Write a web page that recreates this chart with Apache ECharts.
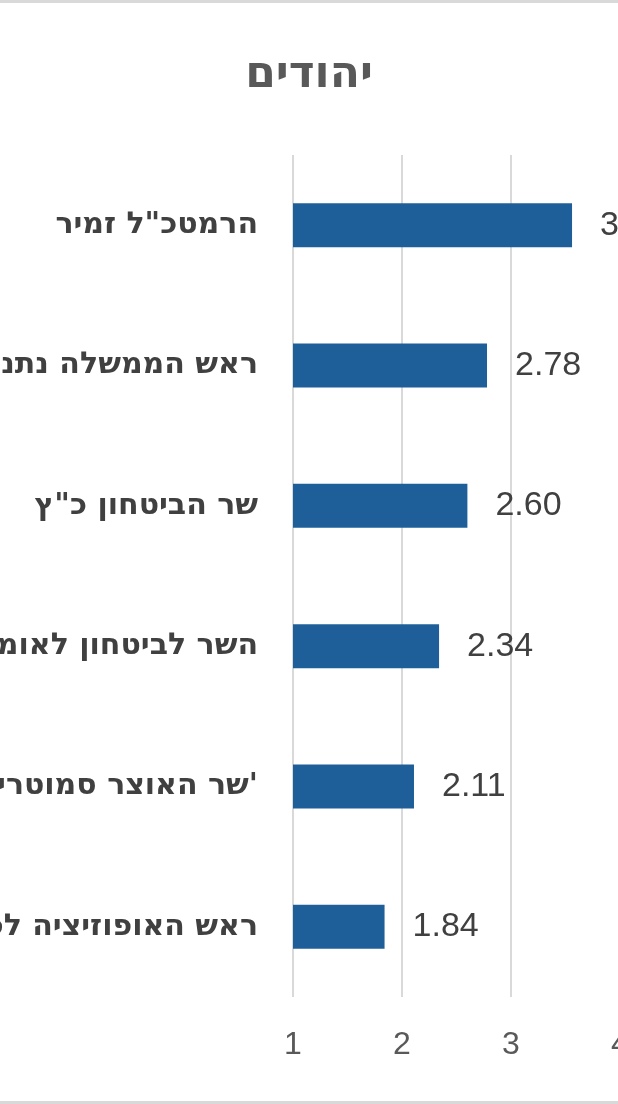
<!DOCTYPE html>
<html><head><meta charset="utf-8">
<script src="https://cdn.jsdelivr.net/npm/echarts@6/dist/echarts.min.js"></script>
<style>html,body{margin:0;padding:0;background:#fff}#c{width:618px;height:1104px;box-sizing:border-box;border-top:3px solid #d9d9d9;border-bottom:3px solid #d9d9d9}</style>
</head><body><div id="c"></div>
<script>
const categories = ["הרמטכ\"ל זמיר","ראש הממשלה נתניהו","שר הביטחון כ\"ץ","השר לביטחון לאומי בן גביר","שר האוצר סמוטריץ'","ראש האופוזיציה לפיד"];
const values = [3.56, 2.78, 2.60, 2.34, 2.11, 1.84];
const chart = echarts.init(document.getElementById('c'));
chart.setOption({
  animation:false,
  title:{text:"יהודים",left:'center',top:46,textStyle:{fontSize:44,fontWeight:'bold',color:'#595959',fontFamily:'DejaVu Sans'}},
  grid:{left:293,width:327,top:152,bottom:104,containLabel:false,outerBoundsMode:'none'},
  xAxis:{type:'value',min:1,max:4,interval:1,
    axisLine:{show:false},axisTick:{show:false},
    splitLine:{lineStyle:{color:'#d9d9d9',width:2}},
    axisLabel:{fontSize:32,color:'#595959',margin:32,fontFamily:'Liberation Sans'}},
  yAxis:{type:'category',data:categories,inverse:true,
    axisLine:{show:false},axisTick:{show:false},
    axisLabel:{fontSize:30,fontWeight:'bold',color:'#404040',margin:35,fontFamily:'DejaVu Sans'}},
  series:[{type:'bar',data:values,barWidth:44,itemStyle:{color:'#1f5f99'},
    label:{show:true,position:'right',distance:28,fontSize:34,color:'#404040',fontFamily:'Liberation Sans',
      formatter:p=>p.value.toFixed(2)}}]
});
</script></body></html>
